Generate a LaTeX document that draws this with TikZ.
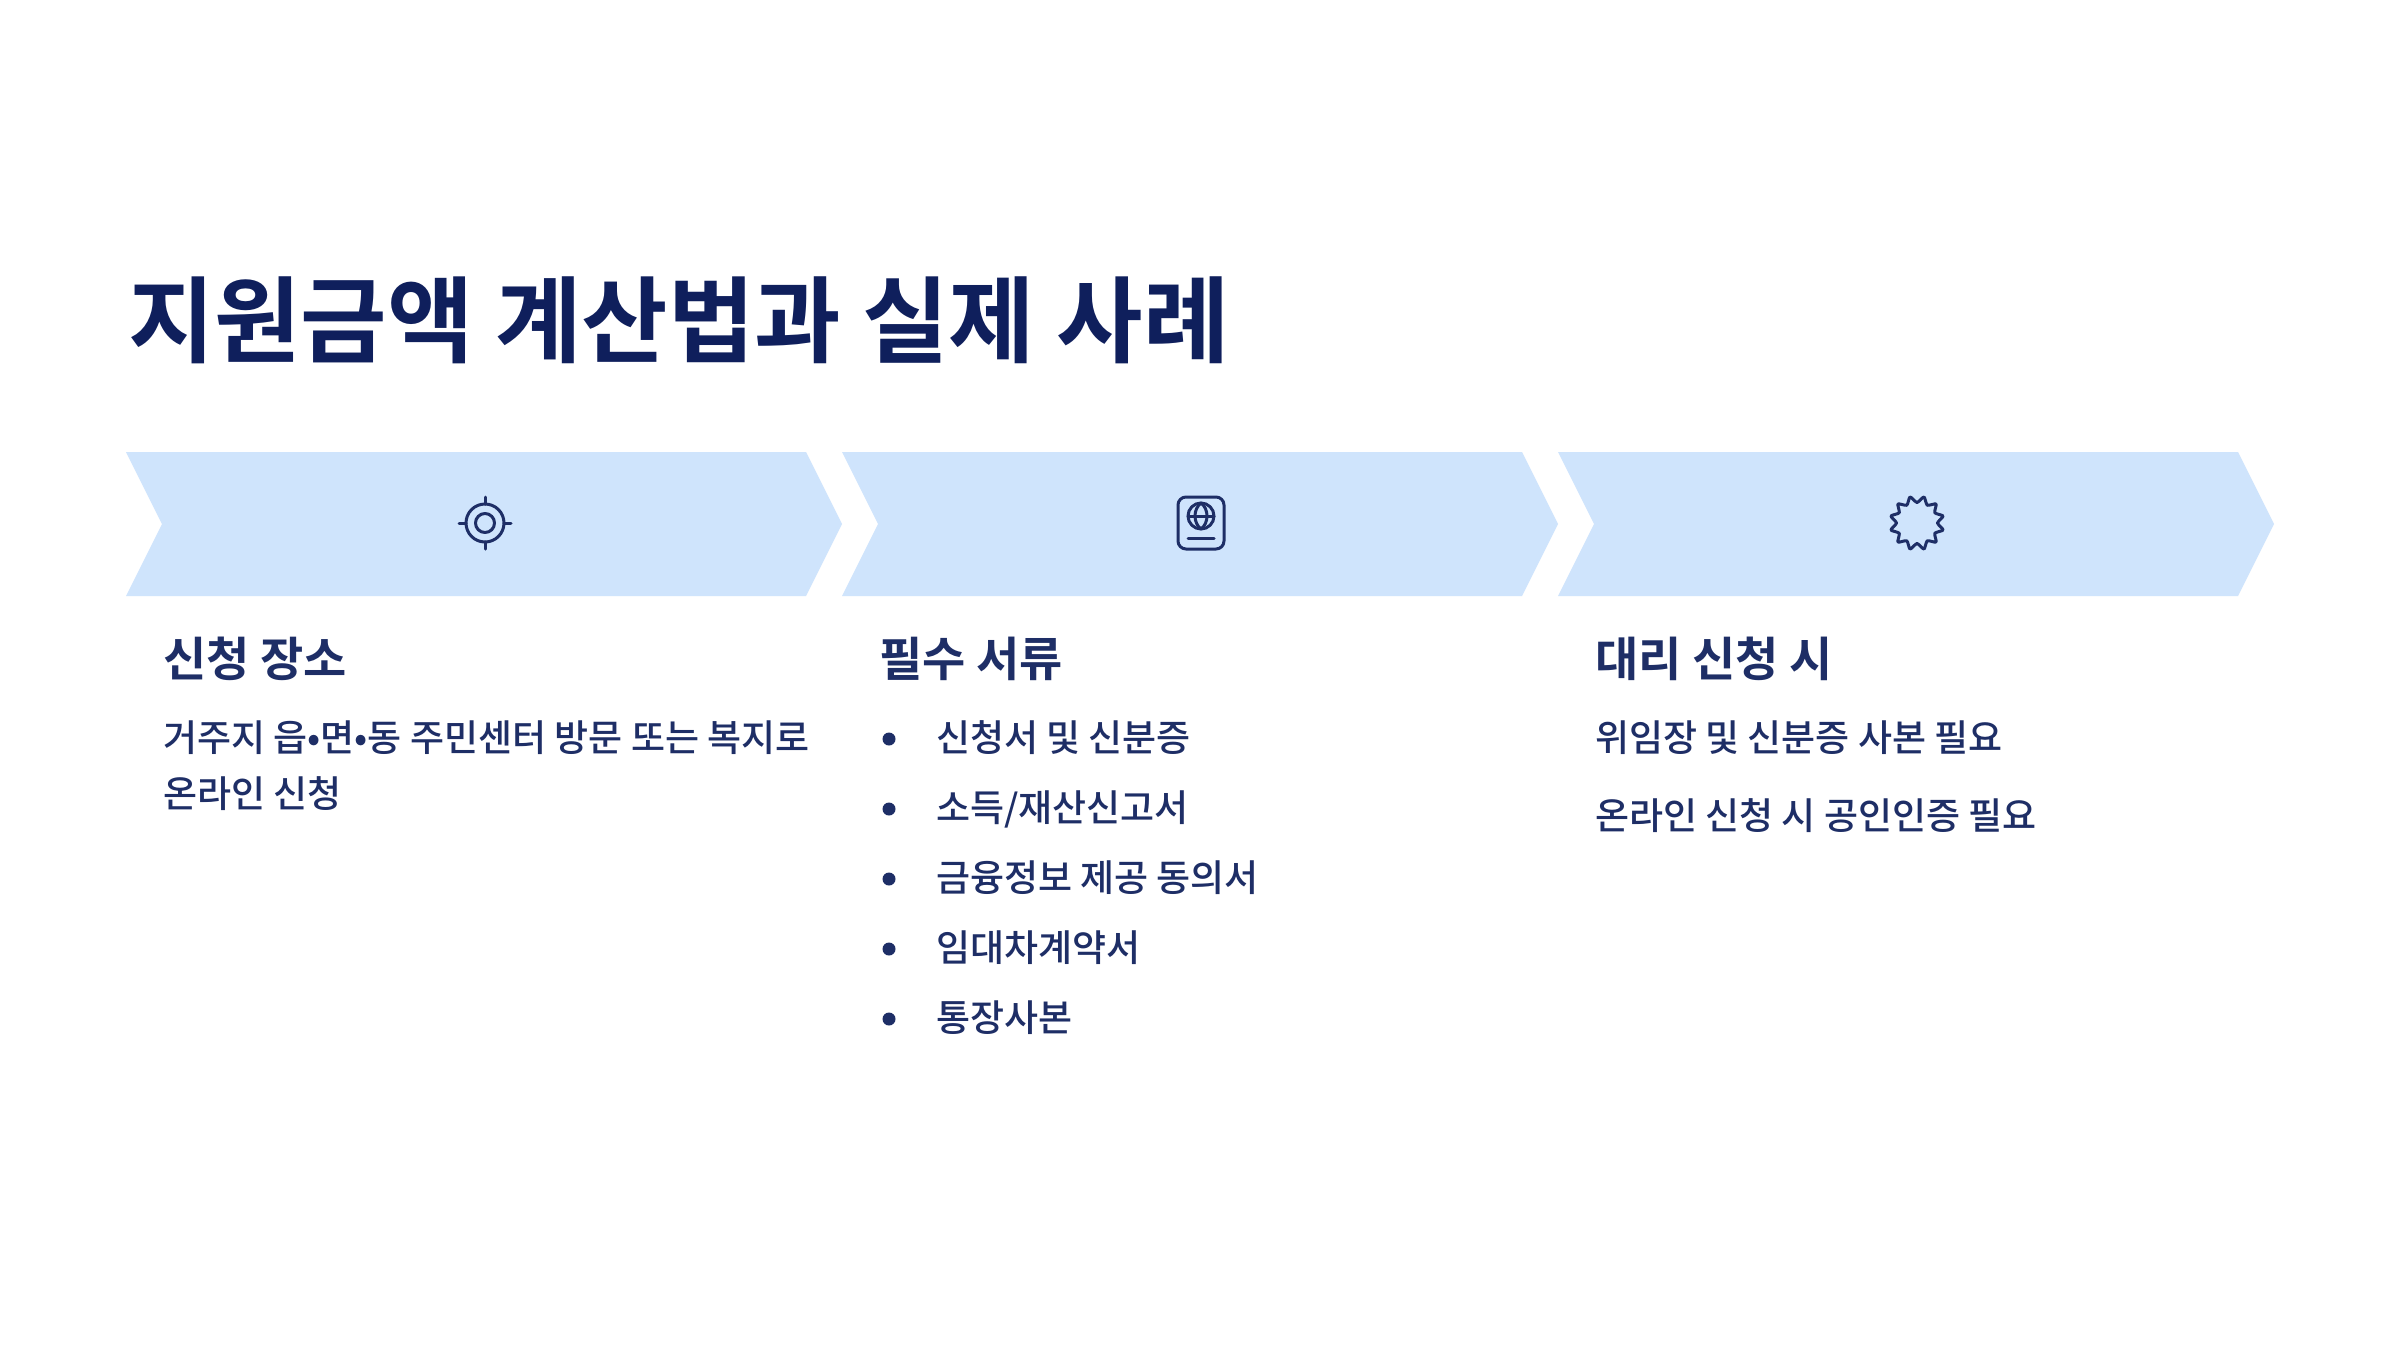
\documentclass[tikz,border=0pt]{standalone}
\usepackage{fontspec}
\setmainfont{Noto Sans CJK KR}[BoldFont={Noto Sans CJK KR}]
\newfontfamily\krbold{Noto Sans CJK KR Bold}
\newfontfamily\krmed{Noto Sans CJK KR Medium}
\definecolor{chev}{HTML}{CFE4FC}
\definecolor{titlec}{HTML}{0F1F5C}
\definecolor{bodyc}{HTML}{1E2E66}
\newcommand{\chevron}[1]{\fill[chev] (#1,452) -- ++(680,0) -- ++(36,72) -- ++(-36,72) -- ++(-680,0) -- ++(36,-72) -- cycle;}
\tikzset{
  x=0.5pt,y=-0.5pt,
  titletext/.style={anchor=base west,inner sep=0pt,outer sep=0pt,text=titlec,font=\krbold\fontsize{47}{47}\selectfont},
  headtext/.style={anchor=base west,inner sep=0pt,outer sep=0pt,text=bodyc,font=\krbold\fontsize{23.5}{23.5}\selectfont},
  bodytext/.style={anchor=base west,inner sep=0pt,outer sep=0pt,text=bodyc,font=\krmed\fontsize{18.5}{18.5}\selectfont},
  icon/.style={draw=bodyc,line width=1.5pt,line cap=round,line join=round},
  bulletdot/.style={circle,fill=bodyc,inner sep=0pt,minimum size=6.5pt},
}
\begin{document}
\begin{tikzpicture}
\useasboundingbox (0,0) rectangle (2400,1350);
\fill[white] (0,0) rectangle (2400,1350);
\node[titletext] (title) at (128,355) {지원금액 계산법과 실제 사례};
\chevron{126}
\chevron{842}
\chevron{1558}
% target icon
\begin{scope}[shift={(485,523)}]
\draw[icon] (0,0) circle[radius=19];
\draw[icon] (0,0) circle[radius=9.5];
\draw[icon] (0,-19) -- (0,-26);
\draw[icon] (0,19) -- (0,26);
\draw[icon] (-19,0) -- (-26,0);
\draw[icon] (19,0) -- (26,0);
\end{scope}
% passport icon
\begin{scope}[shift={(1201,523)}]
\draw[icon,rounded corners=4pt] (-23,-26) rectangle (23,26);
\draw[icon] (0,-7) circle[radius=13];
\draw[icon] (-13,-7) -- (13,-7);
\draw[icon] (0,-20) .. controls (-8,-14) and (-8,0) .. (0,6);
\draw[icon] (0,-20) .. controls (8,-14) and (8,0) .. (0,6);
\draw[icon] (-13,15) -- (13,15);
\end{scope}
% badge icon
\begin{scope}[shift={(1917,523)}]
\draw[icon] plot[smooth cycle,tension=0.35] coordinates {
(15:27) (30:20.5) (45:27) (60:20.5) (75:27) (90:20.5) (105:27) (120:20.5) (135:27) (150:20.5) (165:27) (180:20.5)
(195:27) (210:20.5) (225:27) (240:20.5) (255:27) (270:20.5) (285:27) (300:20.5) (315:27) (330:20.5) (345:27) (360:20.5)};
\end{scope}
\node[headtext] (h1) at (163,676) {신청 장소};
\node[bodytext] (b1a) at (163,751) {거주지 읍•면•동 주민센터 방문 또는 복지로};
\node[bodytext] (b1b) at (163,807) {온라인 신청};
\node[headtext] (h2) at (879,676) {필수 서류};
\node[bulletdot] (d1) at (889,739) {};
\node[bulletdot] (d2) at (889,809) {};
\node[bulletdot] (d3) at (889,879) {};
\node[bulletdot] (d4) at (889,949) {};
\node[bulletdot] (d5) at (889,1019) {};
\node[bodytext] (l1) at (936,751) {신청서 및 신분증};
\node[bodytext] (l2) at (936,821) {소득/재산신고서};
\node[bodytext] (l3) at (936,891) {금융정보 제공 동의서};
\node[bodytext] (l4) at (936,961) {임대차계약서};
\node[bodytext] (l5) at (936,1031) {통장사본};
\node[headtext] (h3) at (1595,676) {대리 신청 시};
\node[bodytext] (b3a) at (1595,751) {위임장 및 신분증 사본 필요};
\node[bodytext] (b3b) at (1595,829) {온라인 신청 시 공인인증 필요};
\end{tikzpicture}
\end{document}
